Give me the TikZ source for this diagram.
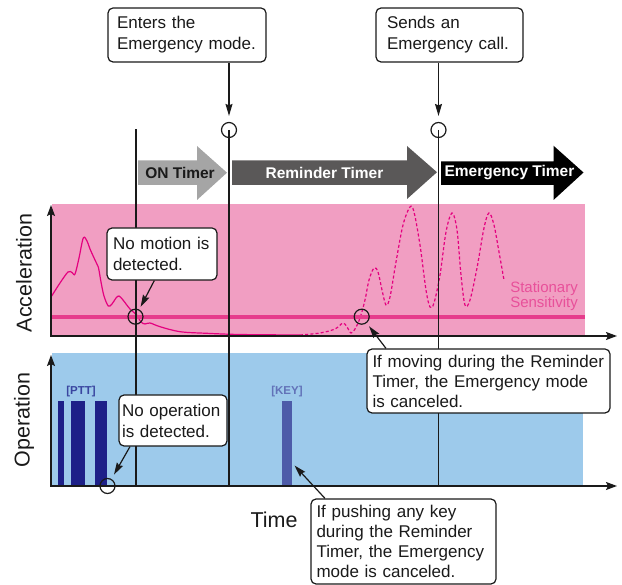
\documentclass[tikz,border=0pt]{standalone}
\usepackage{fontspec}
\setmainfont{Liberation Sans}
\usetikzlibrary{arrows.meta}
\hyphenpenalty=10000
\exhyphenpenalty=10000

\definecolor{pinkbg}{HTML}{F19EC2}
\definecolor{bluebg}{HTML}{9DCAEB}
\definecolor{curvec}{HTML}{E4007F}
\definecolor{sensline}{HTML}{E63C8C}
\definecolor{senstext}{HTML}{E8509A}
\definecolor{navy}{HTML}{1D2088}
\definecolor{keybar}{HTML}{4D5BA8}
\definecolor{ptttext}{HTML}{3A46A0}
\definecolor{keytext}{HTML}{6272B8}
\definecolor{ongray}{HTML}{A5A5A5}
\definecolor{remgray}{HTML}{5A5858}
\definecolor{ink}{HTML}{1A1A1A}

\tikzset{
  callout/.style={draw=ink, fill=white, rounded corners=5pt, line width=1.2pt,
    align=left, text=ink, font=\fontsize{17}{21}\selectfont, inner ysep=2pt},
  ring/.style={circle, draw=ink, line width=1.2pt, minimum size=15pt, inner sep=0pt},
  pointer/.style={draw=ink, line width=1.2pt, -{Stealth[length=12pt,width=7pt,inset=1.5pt]}},
  axis/.style={draw=ink, line width=1.5pt, -{Stealth[length=11pt,width=8pt,inset=2pt]}},
  marker/.style={draw=ink, line width=1.3pt},
  timerlabel/.style={font=\fontsize{15.5}{18}\selectfont\bfseries, inner sep=0pt},
  axislabel/.style={font=\fontsize{21.5}{24}\selectfont, text=ink, inner sep=0pt},
  keylabel/.style={font=\fontsize{11.5}{13}\selectfont\bfseries, inner sep=0pt},
}

\begin{document}
\begin{tikzpicture}[x=1pt,y=-1pt]
\useasboundingbox (0,0) rectangle (622,585);

% backgrounds
\fill[pinkbg] (52,204) rectangle (585,336);
\fill[bluebg] (52,353) rectangle (583,486);

% timer arrows
\fill[ongray] (138,160.5) -- (197,160.5) -- (197,146) -- (227,172.7) -- (197,200) -- (197,185) -- (138,185) -- cycle;
\fill[remgray] (232,160.5) -- (407,160.5) -- (407,146) -- (437,172.2) -- (407,199) -- (407,185) -- (232,185) -- cycle;
\fill[black] (441,161.5) -- (553.5,161.5) -- (553.5,145.7) -- (583.5,172.5) -- (553.5,200) -- (553.5,185) -- (441,185) -- cycle;
\node[timerlabel, text=ink] (ont) at (180,173) {ON Timer};
\node[timerlabel, text=white] (remt) at (324.5,172.5) {Reminder Timer};
\node[timerlabel, text=white] (emt) at (509.5,172.5) {Emergency Timer};

% acceleration curve
\draw[curvec, line width=1.2pt] plot[smooth, tension=0.55] coordinates {
 (51.7,296) (60,283) (68,272) (72,272.5) (75,274) (79,258) (83.3,238) (87,241)
 (90,249) (95,260) (98.3,267) (101,282) (104,296) (108.3,306) (112,304) (116,298)
 (119,296) (123,300) (130,309) (136.7,315) (141,322) (145,324) (150,323)
 (160,326.7) (180,331.7) (206.7,333.3) (240,334.5) (300,335)};
\draw[curvec, line width=1.2pt, dash pattern=on 3pt off 2.2pt] plot[smooth, tension=0.55] coordinates {
 (300,335) (320,333) (335,329) (343,323) (347,327) (351,333) (355,329) (360,318)
 (365,300) (369,280) (374,268) (378,272) (382,290) (386,305) (390,297) (396,262)
 (403,225) (410,207) (414,212) (420,245) (426,290) (430,307) (434,303) (440,275)
 (446,232) (452,213) (457,230) (461,275) (465,305) (470,300) (477,268) (484,228)
 (489,213) (494,225) (499,252) (504,280)};

% stationary sensitivity
\draw[sensline, line width=3.2pt] (52,317) -- (585,317);
\node[anchor=east, align=right, text=senstext, font=\fontsize{15}{15}\selectfont, inner sep=0pt] (sens) at (578,296) {Stationary\\Sensitivity};

% operation bars
\fill[navy] (58.3,401) rectangle (64,486);
\fill[navy] (71,401) rectangle (85,486);
\fill[navy] (95,401) rectangle (106.7,486);
\fill[keybar] (282.3,401) rectangle (292.3,486);
\node[keylabel, text=ptttext] (ptt) at (81,392) {[PTT]};
\node[keylabel, text=keytext] (key) at (287,392) {[KEY]};

% rings
\node[ring] (rA) at (229,130) {};
\node[ring] (rB) at (438.5,130) {};
\node[ring] (rM) at (135.5,316.7) {};
\node[ring] (rR) at (361.7,316.7) {};
\node[ring] (rO) at (107.5,486) {};

% vertical markers
\coordinate (vtop) at (136,129.3);
\coordinate (vbot) at (136,486);
\draw[marker] (vtop) -- (vbot);
\draw[marker] (rA.center) -- (229,486);
\draw[marker] (rB.center) -- (438.5,486);

% axes
\draw[axis] (51,336.5) -- (51,205);
\draw[axis] (50.3,336) -- (617,336);
\draw[axis] (51,486.5) -- (51,355);
\draw[axis] (50.3,486) -- (617,486);

% axis labels
\node[axislabel, rotate=90] (acc) at (24,273) {Acceleration};
\node[axislabel, rotate=90] (opl) at (24,420) {Operation};
\node[axislabel] (time) at (274,520) {Time};

% callouts
\node[callout, text width=140pt, inner xsep=9pt, minimum height=54pt] (enter) at (187,35) {Enters the\\Emergency mode.};
\node[callout, text width=125pt, inner xsep=11pt, minimum height=54pt] (sends) at (449.5,35) {Sends an\\Emergency call.};
\node[callout, text width=98pt, inner xsep=6pt, minimum height=52pt] (motion) at (162,254) {No motion is\\detected.};
\node[callout, text width=102pt, inner xsep=3pt, minimum height=51pt] (noop) at (173,420.5) {No operation\\is detected.};
\node[callout, text width=232pt, inner xsep=5.5pt, minimum height=64pt, font=\fontsize{17}{20}\selectfont] (moving) at (488.5,381) {If moving during the Reminder\\Timer, the Emergency mode\\is canceled.};
\node[callout, text width=174pt, inner xsep=5.5pt, minimum height=85pt, font=\fontsize{17}{20}\selectfont] (pushing) at (403.5,541.5) {If pushing any key\\during the Reminder\\Timer, the Emergency\\mode is canceled.};

% pointers
\coordinate (keytip) at (294.5,465.5);
\draw[pointer, shorten >=6pt] (enter.south -| rA) -- (rA.north);
\draw[pointer, shorten >=6pt] (sends.south -| rB) -- (rB.north);
\draw[pointer, shorten >=3pt] ([xshift=-7.7pt]motion.south) -- (rM);
\draw[pointer, shorten >=4pt] ([xshift=-102.5pt]moving.north) -- (rR);
\draw[pointer, shorten >=5pt] ([xshift=-43pt]noop.south) -- (rO);
\draw[pointer] ([xshift=-78.5pt]pushing.north) -- (keytip);
\end{tikzpicture}
\end{document}
